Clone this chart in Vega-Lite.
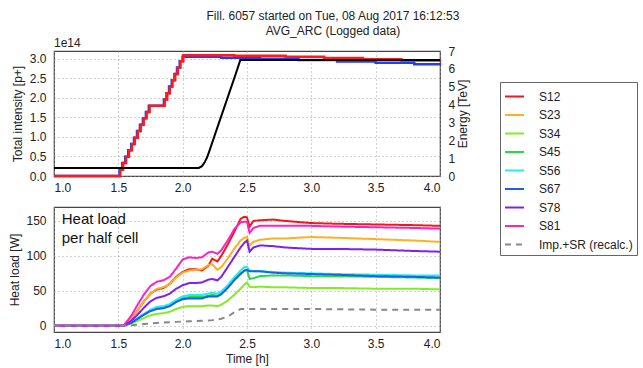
{
  "$schema": "https://vega.github.io/schema/vega-lite/v6.json",
  "padding": {"left": 8, "top": 10, "right": 0, "bottom": 2},
  "background": "white",
  "title": {
    "text": ["Fill. 6057 started on Tue, 08 Aug 2017 16:12:53", "AVG_ARC (Logged data)"],
    "anchor": "middle",
    "dx": 10,
    "fontSize": 12,
    "fontWeight": "normal",
    "lineHeight": 15,
    "color": "#222",
    "offset": -2
  },
  "config": {
    "font": "Liberation Sans",
    "view": {"stroke": "#444", "strokeWidth": 1.2},
    "axis": {
      "labelFont": "Liberation Sans",
      "labelFontSize": 12,
      "labelColor": "#222",
      "titleFont": "Liberation Sans",
      "titleFontSize": 12,
      "titleFontWeight": "normal",
      "titleColor": "#222",
      "domain": false,
      "ticks": false,
      "gridColor": "#999",
      "gridDash": [1, 3],
      "gridOpacity": 0.9,
      "labelPadding": 7
    },
    "legend": {
      "labelFont": "Liberation Sans",
      "labelFontSize": 12,
      "labelColor": "#222"
    }
  },
  "datasets": {
    "intensity": [
      {"t": 1.0, "beam": "B1", "i": 0},
      {"t": 1.509, "beam": "B1", "i": 0.16},
      {"t": 1.531, "beam": "B1", "i": 0.33},
      {"t": 1.554, "beam": "B1", "i": 0.49},
      {"t": 1.577, "beam": "B1", "i": 0.66},
      {"t": 1.600, "beam": "B1", "i": 0.82},
      {"t": 1.622, "beam": "B1", "i": 0.98},
      {"t": 1.645, "beam": "B1", "i": 1.15},
      {"t": 1.668, "beam": "B1", "i": 1.31},
      {"t": 1.691, "beam": "B1", "i": 1.48},
      {"t": 1.714, "beam": "B1", "i": 1.64},
      {"t": 1.737, "beam": "B1", "i": 1.80},
      {"t": 1.854, "beam": "B1", "i": 1.96},
      {"t": 1.874, "beam": "B1", "i": 2.12},
      {"t": 1.894, "beam": "B1", "i": 2.29},
      {"t": 1.915, "beam": "B1", "i": 2.45},
      {"t": 1.936, "beam": "B1", "i": 2.61},
      {"t": 1.956, "beam": "B1", "i": 2.78},
      {"t": 1.977, "beam": "B1", "i": 2.94},
      {"t": 1.999, "beam": "B1", "i": 3.05},
      {"t": 2.3, "beam": "B1", "i": 3.03},
      {"t": 2.6, "beam": "B1", "i": 3.0},
      {"t": 2.9, "beam": "B1", "i": 2.97},
      {"t": 3.2, "beam": "B1", "i": 2.93},
      {"t": 3.5, "beam": "B1", "i": 2.9},
      {"t": 3.8, "beam": "B1", "i": 2.86},
      {"t": 4.0, "beam": "B1", "i": 2.84},
      {"t": 1.0, "beam": "B2", "i": 0},
      {"t": 1.515, "beam": "B2", "i": 0.16},
      {"t": 1.537, "beam": "B2", "i": 0.33},
      {"t": 1.560, "beam": "B2", "i": 0.49},
      {"t": 1.583, "beam": "B2", "i": 0.66},
      {"t": 1.606, "beam": "B2", "i": 0.82},
      {"t": 1.628, "beam": "B2", "i": 0.98},
      {"t": 1.651, "beam": "B2", "i": 1.15},
      {"t": 1.674, "beam": "B2", "i": 1.31},
      {"t": 1.697, "beam": "B2", "i": 1.48},
      {"t": 1.720, "beam": "B2", "i": 1.64},
      {"t": 1.743, "beam": "B2", "i": 1.80},
      {"t": 1.860, "beam": "B2", "i": 1.96},
      {"t": 1.880, "beam": "B2", "i": 2.12},
      {"t": 1.900, "beam": "B2", "i": 2.29},
      {"t": 1.921, "beam": "B2", "i": 2.45},
      {"t": 1.942, "beam": "B2", "i": 2.61},
      {"t": 1.962, "beam": "B2", "i": 2.78},
      {"t": 1.983, "beam": "B2", "i": 2.94},
      {"t": 2.005, "beam": "B2", "i": 3.09},
      {"t": 2.4, "beam": "B2", "i": 3.08},
      {"t": 2.8, "beam": "B2", "i": 3.05},
      {"t": 3.1, "beam": "B2", "i": 3.02},
      {"t": 3.4, "beam": "B2", "i": 2.99},
      {"t": 3.7, "beam": "B2", "i": 2.96},
      {"t": 4.0, "beam": "B2", "i": 2.94}
    ],
    "energy": [
      {"t": 1.0, "e": 0.45},
      {"t": 2.125, "e": 0.45},
      {"t": 2.15, "e": 0.55},
      {"t": 2.17, "e": 0.75},
      {"t": 2.19, "e": 1.05},
      {"t": 2.21, "e": 1.45},
      {"t": 2.25, "e": 2.3},
      {"t": 2.3, "e": 3.35},
      {"t": 2.35, "e": 4.4},
      {"t": 2.4, "e": 5.45},
      {"t": 2.43, "e": 6.1},
      {"t": 2.448, "e": 6.5},
      {"t": 4.0, "e": 6.5}
    ],
    "heat": [
      {"t": 1.0, "S12": 0, "S23": 0, "S34": 0, "S45": 0, "S56": 0, "S67": 0, "S78": 0, "S81": 0, "Imp": 0},
      {"t": 1.54, "S12": 0, "S23": 0, "S34": 0, "S45": 0, "S56": 0, "S67": 0, "S78": 0, "S81": 0, "Imp": 0},
      {"t": 1.6, "S12": 10, "S23": 10, "S34": 3, "S45": 4, "S56": 5, "S67": 4, "S78": 7, "S81": 14, "Imp": 0.5},
      {"t": 1.65, "S12": 22, "S23": 22, "S34": 7, "S45": 10, "S56": 11, "S67": 10, "S78": 16, "S81": 30, "Imp": 1.5},
      {"t": 1.7, "S12": 35, "S23": 35, "S34": 11, "S45": 16, "S56": 17, "S67": 16, "S78": 26, "S81": 45, "Imp": 2.5},
      {"t": 1.75, "S12": 46, "S23": 46, "S34": 15, "S45": 21, "S56": 23, "S67": 21, "S78": 35, "S81": 57, "Imp": 3.2},
      {"t": 1.8, "S12": 52, "S23": 53, "S34": 17, "S45": 25, "S56": 27, "S67": 24, "S78": 40, "S81": 63, "Imp": 4},
      {"t": 1.85, "S12": 54, "S23": 55, "S34": 18, "S45": 26, "S56": 28, "S67": 25, "S78": 42, "S81": 65, "Imp": 4.5},
      {"t": 1.9, "S12": 60, "S23": 60, "S34": 20, "S45": 29, "S56": 31, "S67": 28, "S78": 46, "S81": 70, "Imp": 5},
      {"t": 1.95, "S12": 70, "S23": 69, "S34": 24, "S45": 35, "S56": 37, "S67": 34, "S78": 53, "S81": 82, "Imp": 5.5},
      {"t": 2.0, "S12": 77, "S23": 76, "S34": 27, "S45": 40, "S56": 42, "S67": 38, "S78": 58, "S81": 95, "Imp": 6},
      {"t": 2.05, "S12": 81, "S23": 79, "S34": 28, "S45": 41, "S56": 44, "S67": 39, "S78": 61, "S81": 98, "Imp": 6.3},
      {"t": 2.1, "S12": 81, "S23": 80, "S34": 28, "S45": 41, "S56": 44, "S67": 39, "S78": 61, "S81": 97, "Imp": 6.6},
      {"t": 2.15, "S12": 79, "S23": 81, "S34": 28, "S45": 41, "S56": 44, "S67": 39, "S78": 62, "S81": 98, "Imp": 7},
      {"t": 2.2, "S12": 86, "S23": 87, "S34": 29, "S45": 43, "S56": 46, "S67": 42, "S78": 66, "S81": 105, "Imp": 7.5},
      {"t": 2.23, "S12": 96, "S23": 88, "S34": 29, "S45": 44, "S56": 47, "S67": 42, "S78": 67, "S81": 106, "Imp": 8},
      {"t": 2.27, "S12": 92, "S23": 80, "S34": 28, "S45": 43, "S56": 46, "S67": 42, "S78": 65, "S81": 103, "Imp": 9},
      {"t": 2.3, "S12": 100, "S23": 84, "S34": 30, "S45": 46, "S56": 49, "S67": 45, "S78": 70, "S81": 108, "Imp": 10},
      {"t": 2.35, "S12": 116, "S23": 96, "S34": 36, "S45": 55, "S56": 58, "S67": 54, "S78": 84, "S81": 122, "Imp": 13},
      {"t": 2.4, "S12": 134, "S23": 110, "S34": 44, "S45": 66, "S56": 69, "S67": 65, "S78": 98, "S81": 138, "Imp": 19},
      {"t": 2.45, "S12": 153, "S23": 122, "S34": 53, "S45": 75, "S56": 79, "S67": 74, "S78": 112, "S81": 148, "Imp": 24},
      {"t": 2.48, "S12": 156, "S23": 126, "S34": 59, "S45": 79, "S56": 84, "S67": 79, "S78": 119, "S81": 149, "Imp": 24},
      {"t": 2.5, "S12": 155, "S23": 127, "S34": 62, "S45": 80, "S56": 84, "S67": 80, "S78": 122, "S81": 149, "Imp": 24},
      {"t": 2.52, "S12": 142, "S23": 115, "S34": 56, "S45": 67, "S56": 79, "S67": 78, "S78": 106, "S81": 133, "Imp": 24},
      {"t": 2.55, "S12": 150, "S23": 120, "S34": 55, "S45": 68, "S56": 78, "S67": 78, "S78": 112, "S81": 140, "Imp": 24},
      {"t": 2.6, "S12": 151, "S23": 123, "S34": 56, "S45": 71, "S56": 78, "S67": 78, "S78": 115, "S81": 143, "Imp": 24},
      {"t": 2.7, "S12": 152, "S23": 125, "S34": 55, "S45": 72, "S56": 77, "S67": 76, "S78": 114, "S81": 143, "Imp": 24},
      {"t": 2.8, "S12": 150, "S23": 125, "S34": 55, "S45": 72, "S56": 76, "S67": 75, "S78": 112, "S81": 143, "Imp": 24},
      {"t": 3.0, "S12": 147, "S23": 127, "S34": 54, "S45": 71, "S56": 75, "S67": 74, "S78": 110, "S81": 143, "Imp": 24},
      {"t": 3.2, "S12": 146, "S23": 126, "S34": 54, "S45": 71, "S56": 74, "S67": 73, "S78": 110, "S81": 142, "Imp": 23.5},
      {"t": 3.5, "S12": 145, "S23": 124, "S34": 53, "S45": 70, "S56": 73, "S67": 71, "S78": 109, "S81": 141, "Imp": 23},
      {"t": 3.8, "S12": 144, "S23": 122, "S34": 53, "S45": 69, "S56": 72, "S67": 70, "S78": 107, "S81": 140, "Imp": 23},
      {"t": 4.0, "S12": 143, "S23": 120, "S34": 52, "S45": 68, "S56": 72, "S67": 69, "S78": 106, "S81": 139, "Imp": 23}
    ],
    "notes": [
      {"x": 1.06, "y": 146, "txt": "Heat load"},
      {"x": 1.06, "y": 118.5, "txt": "per half cell"}
    ]
  },
  "vconcat": [
    {
      "width": 386,
      "height": 125,
      "title": {"text": "1e14", "anchor": "start", "frame": "group", "fontSize": 12, "fontWeight": "normal", "color": "#222", "offset": -5},
      "layer": [
        {
          "data": {"name": "intensity"},
          "transform": [{"filter": "datum.beam == 'B1'"}],
          "mark": {"type": "line", "interpolate": "step-after", "strokeWidth": 2.5, "color": "#1f3dff"},
          "encoding": {
            "x": {"field": "t", "type": "quantitative", "scale": {"domain": [1, 4], "nice": false}, "axis": {"values": [1, 1.5, 2, 2.5, 3, 3.5, 4], "format": ".1f", "title": null, "labelPadding": 6}},
            "y": {"field": "i", "type": "quantitative", "scale": {"domain": [0, 3.2], "nice": false}, "axis": {"values": [0, 0.5, 1, 1.5, 2, 2.5, 3], "format": ".1f", "title": "Total intensity [p+]", "titlePadding": 5, "labelPadding": 8}}
          }
        },
        {
          "data": {"name": "intensity"},
          "transform": [{"filter": "datum.beam == 'B2'"}],
          "mark": {"type": "line", "interpolate": "step-after", "strokeWidth": 2.5, "color": "#ff1a1a"},
          "encoding": {
            "x": {"field": "t", "type": "quantitative"},
            "y": {"field": "i", "type": "quantitative", "scale": {"domain": [0, 3.2], "nice": false}, "axis": null}
          }
        },
        {
          "data": {"name": "energy"},
          "mark": {"type": "line", "strokeWidth": 2, "color": "#000"},
          "encoding": {
            "x": {"field": "t", "type": "quantitative"},
            "y": {"field": "e", "type": "quantitative", "scale": {"domain": [0, 7], "nice": false}, "axis": {"orient": "right", "values": [0, 1, 2, 3, 4, 5, 6, 7], "grid": false, "title": "Energy [TeV]", "titleAngle": 270, "titleBaseline": "top", "titlePadding": 3, "labelPadding": 8}}
          }
        }
      ],
      "resolve": {"scale": {"y": "independent"}}
    },
    {
      "width": 386,
      "height": 125,
      "layer": [
        {
          "data": {"name": "heat"},
          "transform": [{"fold": ["S12", "S23", "S34", "S45", "S56", "S67", "S78", "S81", "Imp"], "as": ["s", "v"]}],
          "mark": {"type": "line", "strokeWidth": 2},
          "encoding": {
            "x": {"field": "t", "type": "quantitative", "scale": {"domain": [1, 4], "nice": false}, "axis": {"values": [1, 1.5, 2, 2.5, 3, 3.5, 4], "format": ".1f", "title": "Time [h]", "labelPadding": 6, "titlePadding": 4}},
            "y": {"field": "v", "type": "quantitative", "scale": {"domain": [-9, 170], "nice": false, "zero": false}, "axis": {"values": [0, 50, 100, 150], "title": "Heat load [W]", "titlePadding": 4, "labelPadding": 8}},
            "color": {
              "field": "s", "type": "nominal", "sort": null,
              "scale": {"domain": ["S12", "S23", "S34", "S45", "S56", "S67", "S78", "S81", "Imp"], "range": ["#f01818", "#ffb020", "#80ee20", "#20dd40", "#20eeee", "#1a5ff0", "#8020ee", "#ff20c8", "#888888"]},
              "legend": {"title": null, "orient": "none", "legendX": 446, "legendY": 31, "symbolType": "stroke", "symbolStrokeWidth": 2, "symbolSize": 360, "strokeColor": "#666", "fillColor": "white", "padding": 4, "rowPadding": 1.5, "labelOffset": 14, "labelExpr": "datum.label == 'Imp' ? 'Imp.+SR (recalc.)' : datum.label"}
            },
            "strokeDash": {
              "field": "s", "type": "nominal", "sort": null,
              "scale": {"domain": ["S12", "S23", "S34", "S45", "S56", "S67", "S78", "S81", "Imp"], "range": [[1, 0], [1, 0], [1, 0], [1, 0], [1, 0], [1, 0], [1, 0], [1, 0], [6, 5]]},
              "legend": {"title": null, "orient": "none", "legendX": 446, "legendY": 31, "symbolType": "stroke", "symbolStrokeWidth": 2, "symbolSize": 360, "strokeColor": "#666", "fillColor": "white", "padding": 4, "rowPadding": 1.5, "labelOffset": 14, "labelExpr": "datum.label == 'Imp' ? 'Imp.+SR (recalc.)' : datum.label"}
            }
          }
        },
        {
          "data": {"name": "notes"},
          "mark": {"type": "text", "align": "left", "baseline": "alphabetic", "fontSize": 15, "color": "#111"},
          "encoding": {
            "x": {"field": "x", "type": "quantitative"},
            "y": {"field": "y", "type": "quantitative"},
            "text": {"field": "txt"}
          }
        }
      ]
    }
  ],
  "spacing": 12
}
